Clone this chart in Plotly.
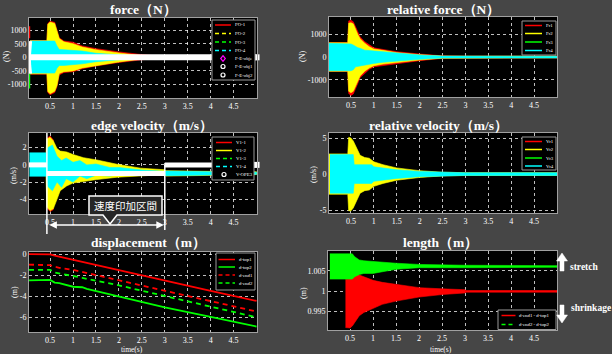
import plotly.graph_objects as go

W, H = 612, 354
SERIF = "Liberation Serif, Times New Roman, serif"
BG = "#464646"
RED, YEL, GRN, CYA = "#ff0000", "#ffff00", "#00ff00", "#00ffff"

# ---------------- data ----------------
TIME_TICKS = [0.5, 1, 1.5, 2, 2.5, 3, 3.5, 4, 4.5]
TIME_TICK_TEXT = ["0.5", "1", "1.5", "2", "2.5", "3", "3.5", "4", "4.5"]

# force (N): envelopes of the oscillating signals
F_t = [0.06, 0.43, 0.45, 0.5, 0.6, 0.65, 0.7, 0.8, 1.0, 1.2, 1.5, 2.0, 2.5, 3.0, 3.5, 5.0]
F_red_up = [620, 620, 1250, 1330, 1290, 1000, 720, 600, 560, 420, 320, 200, 100, 30, 10, 5]
F_red_lo = [-620, -620, -1300, -1380, -1300, -1080, -650, -560, -530, -420, -320, -190, -90, -30, -10, -5]
F_yel_up = [610, 610, 1220, 1300, 1250, 940, 690, 570, 500, 380, 280, 160, 60, 25, 8, 4]
F_yel_lo = [-610, -610, -1260, -1345, -1250, -1040, -600, -530, -500, -390, -300, -170, -60, -25, -8, -4]
F_cya_up = [600, 600, 600, 600, 600, 420, 290, 280, 260, 230, 150, 80, 30, 10, 5, 3]
F_cya_lo = [-580, -580, -580, -580, -580, -400, -300, -300, -280, -240, -160, -90, -35, -10, -5, -3]
F_red_spike_t = [0.05, 0.05]
F_red_spike_y = [700, 1150]
F_grn_spike_t = [0.05, 0.05]
F_grn_spike_y = [-550, -1150]
F_obj_t = [0.075, 0.055, 0.047, 0.055, 0.075]
F_obj_y = [600, 300, 0, -300, -600]
F_ope_t = [0.04, 5.0]
F_ope_y = [0, 0]

# relative force (N)
R_t = [0.02, 0.43, 0.45, 0.5, 0.55, 0.6, 0.65, 0.7, 0.8, 0.9, 1.0, 1.2, 1.5, 2.0, 2.5, 3.0, 5.0]
R_red_up = [630, 630, 1580, 1610, 1540, 1320, 1100, 880, 670, 520, 400, 330, 230, 130, 50, 40, 40]
R_red_lo = [-630, -630, -1600, -1680, -1620, -1400, -1150, -900, -700, -540, -430, -350, -280, -160, -60, -40, -40]
R_yel_up = [620, 620, 1480, 1500, 1450, 1200, 980, 800, 600, 450, 350, 290, 190, 100, 40, 35, 35]
R_yel_lo = [-620, -620, -1500, -1560, -1500, -1280, -1050, -830, -620, -480, -380, -310, -230, -130, -50, -35, -35]
R_cya_up = [600, 600, 590, 570, 520, 450, 410, 380, 300, 280, 260, 220, 160, 90, 40, 35, 35]
R_cya_lo = [-600, -600, -600, -600, -560, -430, -400, -380, -350, -310, -280, -230, -170, -100, -45, -40, -40]

# edge velocity (m/s)
E_red_t = [0.43, 0.5, 0.57]
E_red_up = [3.1, 3.35, 2.9]
E_red_lo = [-5.0, -5.4, -5.2]
E_yel_t = [0.41, 0.43, 0.5, 0.57, 0.65, 0.72, 0.86, 1.0, 1.23, 1.52, 1.96, 2.47, 3.0, 3.02, 4.0, 5.0]
E_yel_up = [1.4, 3.0, 3.2, 2.8, 1.9, 1.6, 1.5, 1.2, 0.83, 0.57, 0.07, -0.38, -0.57, -0.68, -0.75, -0.8]
E_yel_lo = [-1.3, -4.9, -5.3, -5.1, -4.0, -3.0, -2.45, -2.1, -1.9, -1.7, -1.43, -1.25, -1.13, -1.3, -1.2, -1.13]
E_cya_t = [0.05, 0.42, 0.45, 0.55, 0.65, 0.75, 0.85, 1.0, 1.15, 1.3, 1.5, 1.8, 2.0, 2.5, 3.0, 3.02, 4.0, 5.0]
E_cya_up = [1.4, 1.4, 2.0, 2.3, 1.0, 0.5, 0.8, 0.3, 0.5, 0.0, 0.1, -0.3, -0.3, -0.6, -0.75, -0.72, -0.8, -0.85]
E_cya_lo = [-1.32, -1.32, -2.5, -3.0, -2.0, -2.6, -1.6, -2.0, -1.3, -1.6, -1.2, -1.3, -1.1, -1.1, -1.05, -1.25, -1.15, -1.1]
E_ope_t = [0.04, 0.43, None, 0.43, 3.0, None, 3.0, 5.0]
E_ope_y = [0, 0, None, -1.0, -1.0, None, 0, 0]
E_span = [0.43, 3.0]

# relative velocity (m/s)
V_yel_t = [0.02, 0.43, 0.45, 0.5, 0.55, 0.6, 0.65, 0.7, 0.8, 0.9, 1.0, 1.2, 1.5, 2.0, 2.5, 3.0, 5.0]
V_yel_up = [2.8, 2.8, 5.1, 5.0, 4.6, 3.9, 3.2, 2.6, 2.3, 2.2, 1.7, 1.3, 0.85, 0.47, 0.25, 0.2, 0.2]
V_yel_lo = [-2.8, -2.8, -5.1, -5.1, -4.7, -4.0, -3.3, -2.65, -2.3, -2.2, -1.7, -1.3, -0.85, -0.47, -0.25, -0.2, -0.2]
V_cya_t = [0.04, 0.55, 0.57, 0.95, 1.0, 1.2, 1.5, 2.0, 2.5, 3.0, 5.0]
V_cya_up = [2.7, 2.7, 1.3, 1.3, 1.0, 0.85, 0.6, 0.37, 0.25, 0.18, 0.18]
V_cya_lo = [-2.65, -2.65, -1.3, -1.3, -1.0, -0.85, -0.6, -0.37, -0.25, -0.18, -0.18]

# displacement (m)
D_t = [0.04, 0.45, 0.5, 0.6, 0.7, 1.0, 1.2, 1.3, 2.0, 3.0, 4.0, 5.0]
D_top1 = [0, 0, -0.02, -0.15, -0.25, -0.5, -0.72, -0.8, -1.5, -2.5, -3.5, -4.45]
D_top2 = [-2.5, -2.5, -2.45, -2.7, -2.75, -3.1, -3.15, -3.3, -4.04, -5.05, -5.97, -6.88]
D_end1 = [-1.0, -1.0, -1.05, -1.2, -1.3, -1.5, -1.7, -1.8, -2.45, -3.45, -4.45, -5.46]
D_end2 = [-1.5, -1.5, -1.5, -1.75, -1.85, -2.08, -2.25, -2.35, -2.97, -4.0, -5.0, -6.0]

# length (m)
G_t = [0.06, 0.55, 0.6, 0.7, 0.8, 1.0, 1.5, 2.0, 3.0, 5.0]
G_up = [1.0092, 1.0092, 1.0085, 1.0077, 1.0075, 1.0073, 1.0069, 1.0066, 1.0064, 1.0063]
G_lo = [1.0030, 1.0030, 1.0036, 1.0041, 1.0044, 1.0044, 1.0054, 1.0058, 1.0058, 1.0059]
L_t = [0.40, 0.5, 0.55, 0.6, 0.7, 0.8, 1.0, 1.2, 1.5, 2.0, 2.5, 3.0, 3.02, 5.0]
L_up = [1.0029, 1.0030, 1.0040, 1.0044, 1.0040, 1.0036, 1.0027, 1.0022, 1.0017, 1.0009, 1.0006, 1.0004, 1.0002, 1.0002]
L_lo = [0.9911, 0.9910, 0.9915, 0.9923, 0.9940, 0.9948, 0.9957, 0.9968, 0.9976, 0.9986, 0.9992, 0.9996, 0.9998, 0.9998]

TITLES = ["force（N）", "relative force（N）", "edge velocity（m/s）",
          "relative velocity（m/s）", "displacement（m）", "length（m）"]
YUNITS = ["(N)", "(N)", "(m/s)", "(m/s)", "(m)", "(m)"]

# ---------------- layout helpers ----------------
def X(px):
    return px / W


def Y(py):
    return 1 - py / H


panels = {
    1: dict(box=(29, 18, 257, 98), xr=[0.04, 5.01], yr=[-1500, 1450],
            yt=[-1000, -500, 0, 500, 1000], ytt=["-1000", "-500", "0", "500", "1000"],
            title=(143, 10), unit=(6, 57)),
    2: dict(box=(329, 17, 557, 97), xr=[0.02, 5.0], yr=[-1750, 1750],
            yt=[-1000, 0, 1000], ytt=["-1000", "0", "1000"],
            title=(443, 10), unit=(302, 57)),
    3: dict(box=(29, 133, 257, 214), xr=[0.04, 5.01], yr=[-5.7, 3.7],
            yt=[-4, -2, 0, 2], ytt=["-4", "-2", "0", "2"],
            title=(152, 125), unit=(14, 175)),
    4: dict(box=(329, 133, 557, 213), xr=[0.02, 5.0], yr=[-5.4, 5.7],
            yt=[-5, 0, 5], ytt=["-5", "0", "5"],
            title=(438, 125), unit=(314, 175)),
    5: dict(box=(29, 252, 257, 332), xr=[0.04, 5.01], yr=[-7.4, 0.2],
            yt=[-6, -4, -2, 0], ytt=["-6", "-4", "-2", "0"],
            title=(148, 242), unit=(14, 292)),
    6: dict(box=(328, 251, 557, 330), xr=[0.02, 5.0], yr=[0.9905, 1.0099],
            yt=[0.995, 1, 1.005], ytt=["0.995", "1", "1.005"],
            title=(440, 242), unit=(303, 293)),
}

layout = dict(
    width=W, height=H, margin=dict(l=0, r=0, t=0, b=0),
    paper_bgcolor=BG, plot_bgcolor="black", showlegend=False,
    shapes=[], annotations=[],
)

tickfont = dict(family=SERIF, size=8, color="white")
for i, p in panels.items():
    x0, y0, x1, y1 = p["box"]
    s = "" if i == 1 else str(i)
    common = dict(showgrid=True, gridcolor="rgba(255,255,255,0.75)", griddash="dot",
                  gridwidth=1, zeroline=False, showline=True, mirror=True,
                  linecolor="#a0a0a0", linewidth=1, ticks="", tickfont=tickfont,
                  fixedrange=True, automargin=False)
    layout["xaxis" + s] = dict(domain=[X(x0), X(x1)], range=p["xr"], anchor="y" + s,
                               tickvals=TIME_TICKS, ticktext=TIME_TICK_TEXT, **common)
    layout["yaxis" + s] = dict(domain=[Y(y1), Y(y0)], range=p["yr"], anchor="x" + s,
                               tickvals=p["yt"], ticktext=p["ytt"], **common)
    tx, ty = p["title"]
    layout["annotations"].append(dict(
        text="<b>%s</b>" % TITLES[i - 1], x=X(tx), y=Y(ty), xref="paper", yref="paper",
        showarrow=False, xanchor="center", yanchor="middle",
        font=dict(family=SERIF, size=13.5, color="white")))
    ux, uy = p["unit"]
    layout["annotations"].append(dict(
        text=YUNITS[i - 1], x=X(ux), y=Y(uy), xref="paper", yref="paper", textangle=-90,
        showarrow=False, xanchor="center", yanchor="middle",
        font=dict(family=SERIF, size=8, color="white")))

for tx in (132, 441):
    layout["annotations"].append(dict(
        text="time(s)", x=X(tx), y=Y(349), xref="paper", yref="paper", showarrow=False,
        xanchor="center", yanchor="middle", font=dict(family=SERIF, size=7.5, color="white")))

traces = []


def band(t, up, lo, color, ax):
    t = list(t)
    traces.append(go.Scatter(
        x=t + t[::-1], y=list(up) + list(lo)[::-1], fill="toself", fillcolor=color,
        line=dict(color=color, width=0.6), mode="lines", hoverinfo="skip",
        xaxis="x" + ax, yaxis="y" + ax))


def line(t, y, color, ax, width=1.8, dash="solid", **kw):
    traces.append(go.Scatter(x=list(t), y=list(y), mode="lines",
                             line=dict(color=color, width=width, dash=dash),
                             hoverinfo="skip", xaxis="x" + ax, yaxis="y" + ax, **kw))


# panel 1: force
band(F_t, F_red_up, F_red_lo, RED, "")
band(F_t, F_yel_up, F_yel_lo, YEL, "")
band(F_t, F_cya_up, F_cya_lo, CYA, "")
line(F_red_spike_t, F_red_spike_y, RED, "", width=1.5)
line(F_grn_spike_t, F_grn_spike_y, GRN, "", width=1.5)
line(F_obj_t, F_obj_y, "white", "", width=3)
line(F_ope_t, F_ope_y, "white", "", width=6)
traces.append(go.Scatter(x=[F_ope_t[-1]], y=[F_ope_y[-1]], mode="markers", cliponaxis=False,
                         marker=dict(symbol="square", size=6, color="white"),
                         hoverinfo="skip", xaxis="x", yaxis="y"))

# panel 2: relative force
band(R_t, R_red_up, R_red_lo, RED, "2")
band(R_t, R_yel_up, R_yel_lo, YEL, "2")
band(R_t, R_cya_up, R_cya_lo, CYA, "2")

# panel 3: edge velocity
band(E_red_t, E_red_up, E_red_lo, RED, "3")
band(E_yel_t, E_yel_up, E_yel_lo, YEL, "3")
band(E_cya_t, E_cya_up, E_cya_lo, CYA, "3")
line(E_ope_t, E_ope_y, "white", "3", width=5)
traces.append(go.Scatter(x=[E_ope_t[-1]], y=[E_ope_y[-1]], mode="markers", cliponaxis=False,
                         marker=dict(symbol="square", size=6, color="white"),
                         hoverinfo="skip", xaxis="x3", yaxis="y3"))

# panel 4: relative velocity
band(V_yel_t, V_yel_up, V_yel_lo, YEL, "4")
band(V_cya_t, V_cya_up, V_cya_lo, CYA, "4")

# panel 5: displacement
line(D_t, D_top1, RED, "5", width=1.8)
line(D_t, D_top2, GRN, "5", width=1.8)
line(D_t, D_end1, RED, "5", width=1.8, dash="5px,4px")
line(D_t, D_end2, GRN, "5", width=1.8, dash="5px,4px")

# panel 6: length
band(L_t, L_up, L_lo, RED, "6")
band(G_t, G_up, G_lo, GRN, "6")

# ---------------- annotations of the edge-velocity panel ----------------
shapes = layout["shapes"]
shapes.append(dict(type="line", xref="x3", yref="paper", x0=E_span[0], x1=E_span[0],
                   y0=Y(133), y1=Y(234), line=dict(color="white", width=1.5)))
shapes.append(dict(type="line", xref="x3", yref="paper", x0=E_span[1], x1=E_span[1],
                   y0=Y(165), y1=Y(230), line=dict(color="white", width=1.5)))
layout["annotations"].append(dict(
    x=E_span[1], y=Y(225), ax=E_span[0], ay=0, xref="x3", yref="paper",
    axref="x3", ayref="pixel", text="", showarrow=True, arrowside="end+start",
    arrowhead=2, arrowsize=1, arrowwidth=1.5, arrowcolor="white", standoff=1, startstandoff=1))


def path(pts):
    return "M " + " L ".join("%.5f,%.5f" % (X(a), Y(b)) for a, b in pts) + " Z"


shapes.append(dict(type="path", xref="paper", yref="paper",
                   path=path([(89, 196), (162, 196), (162, 215), (117, 215), (110, 224),
                              (103, 215), (89, 215)]),
                   fillcolor="#262626", line=dict(color="white", width=1.5)))
layout["annotations"].append(dict(
    text="速度印加区間", x=X(125), y=Y(205.5), xref="paper", yref="paper", showarrow=False,
    xanchor="center", yanchor="middle",
    font=dict(family="Noto Sans CJK JP", size=10.5, color="white")))

# stretch / shrinkage arrows
shapes.append(dict(type="path", xref="paper", yref="paper",
                   path=path([(562, 253), (567.5, 261), (564, 261), (564, 271), (560, 271),
                              (560, 261), (556.5, 261)]),
                   fillcolor="white", line=dict(color="white", width=0.5)))
shapes.append(dict(type="path", xref="paper", yref="paper",
                   path=path([(562, 323), (567.5, 315), (564, 315), (564, 305), (560, 305),
                              (560, 315), (556.5, 315)]),
                   fillcolor="white", line=dict(color="white", width=0.5)))
for txt, xx, yy in (("stretch", 568, 266.5), ("shrinkage", 568.5, 308)):
    layout["annotations"].append(dict(
        text="<b>%s</b>" % txt, x=X(xx), y=Y(yy), xref="paper", yref="paper",
        showarrow=False, xanchor="left", yanchor="middle",
        font=dict(family=SERIF, size=9.5, color="white")))

# ---------------- hand-drawn legend boxes ----------------
def legend_box(box, line_x, text_x, rows, items):
    x0, y0, x1, y1 = box
    shapes.append(dict(type="rect", xref="paper", yref="paper", x0=X(x0), x1=X(x1),
                       y0=Y(y1), y1=Y(y0), fillcolor="black",
                       line=dict(color="#9a9a9a", width=1)))
    for (label, color, dash, marker), yy in zip(items, rows):
        la, lb = line_x
        cx = (la + lb) / 2
        if marker == "circle":
            shapes.append(dict(type="circle", xref="paper", yref="paper",
                               x0=X(cx - 2), x1=X(cx + 2), y0=Y(yy + 2), y1=Y(yy - 2),
                               line=dict(color=color, width=1.2)))
        elif marker == "diamond":
            shapes.append(dict(type="path", xref="paper", yref="paper",
                               path=path([(cx, yy - 2.8), (cx + 2.3, yy), (cx, yy + 2.8),
                                          (cx - 2.3, yy)]),
                               line=dict(color=color, width=1.2)))
        else:
            shapes.append(dict(type="line", xref="paper", yref="paper", x0=X(la), x1=X(lb),
                               y0=Y(yy), y1=Y(yy), line=dict(color=color, width=1.5, dash=dash)))
        layout["annotations"].append(dict(
            text=label, x=X(text_x), y=Y(yy), xref="paper", yref="paper", showarrow=False,
            xanchor="left", yanchor="middle", font=dict(family=SERIF, size=4.8, color="white")))


DASH = "4px,3px"
legend_box((212, 20, 255, 80), (215, 231), 232.5, [25, 33.5, 42, 50.5, 58.5, 66.5, 75],
           [("FO-1", RED, "solid", None), ("FO-2", YEL, DASH, None), ("FO-3", GRN, DASH, None),
            ("FO-4", CYA, DASH, None), ("F-E-obje", "#ff00ff", None, "diamond"),
            ("F-E-obj1", "white", None, "circle"), ("F-E-obj2", "white", None, "circle")])
legend_box((212, 137, 254, 180), (216, 232), 234, [142.5, 150.5, 158.5, 166.5, 174.5],
           [("V1-1", RED, "solid", None), ("V1-2", YEL, "solid", None), ("V1-3", GRN, DASH, None),
            ("V1-4", CYA, DASH, None), ("V-OPE3", "white", None, "circle")])
legend_box((522, 21, 556, 55), (525, 542), 543.5, [25.5, 33.5, 42, 50.5],
           [("Fr1", RED, "solid", None), ("Fr2", YEL, "solid", None), ("Fr3", GRN, "solid", None),
            ("Fr4", CYA, "solid", None)])
legend_box((522, 137, 556, 170), (525, 542), 543.5, [141.5, 149.5, 158, 166],
           [("Vr1", RED, "solid", None), ("Vr2", YEL, "solid", None), ("Vr3", GRN, "solid", None),
            ("Vr4", CYA, "solid", None)])
legend_box((216, 253, 255, 290), (218.5, 235), 237, [259.5, 267, 275, 283],
           [("d-top1", RED, "solid", None), ("d-top2", GRN, "solid", None),
            ("d-end1", RED, DASH, None), ("d-end2", GRN, DASH, None)])
legend_box((498, 310, 556, 329.5), (501.5, 515.5), 517, [315.5, 324.5],
           [("d-end1 - d-top1", RED, "solid", None), ("d-end2 - d-top2", GRN, DASH, None)])

fig = go.Figure(data=traces, layout=layout)
fig.write_html("out.html")
